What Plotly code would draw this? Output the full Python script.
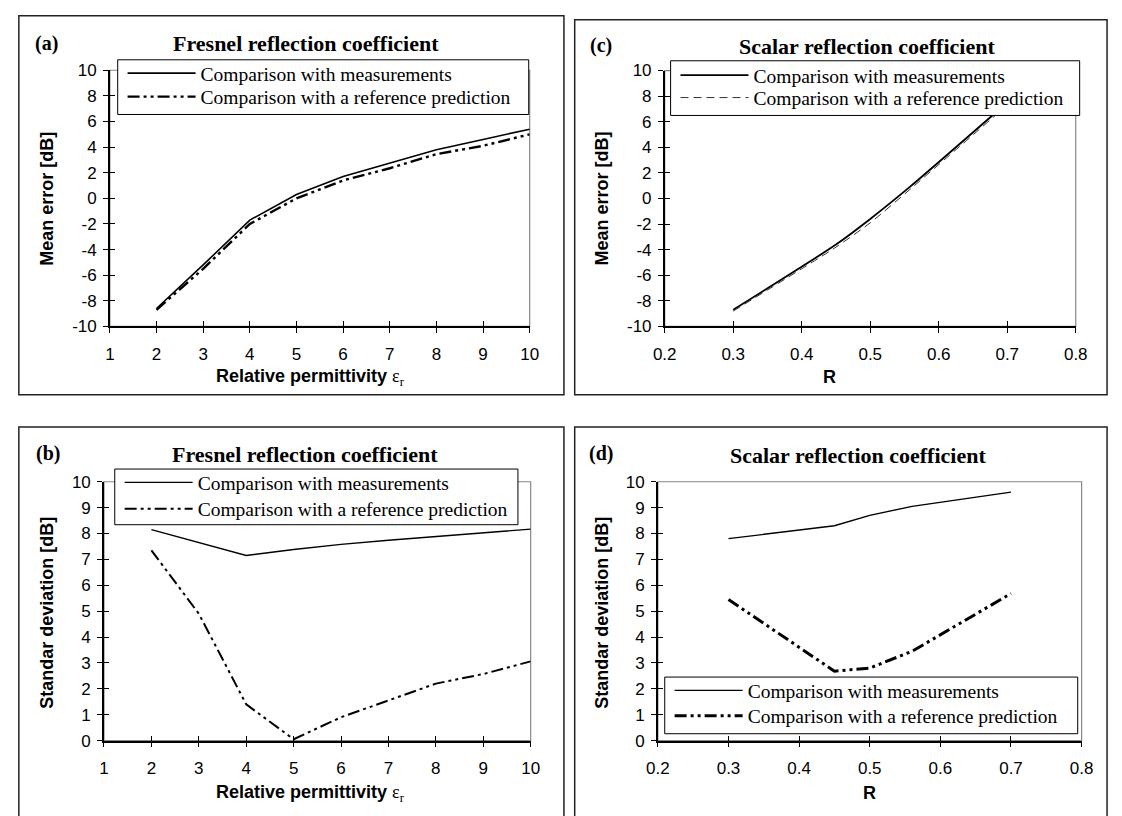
import plotly.graph_objects as go

W, H = 1122, 816

# ---------------- data ----------------
eps_x = [2, 3, 4, 5, 6, 7, 8, 9, 10]
a_meas = [-8.6, -5.2, -1.7, 0.3, 1.7, 2.75, 3.8, 4.6, 5.4]
a_ref = [-8.7, -5.5, -2.0, 0.0, 1.4, 2.35, 3.45, 4.1, 5.0]

R_x = [0.3, 0.45, 0.5, 0.56, 0.7]
c_meas = [-8.7, -3.6, -1.6, 1.0, 7.5]
c_ref = [-8.8, -3.8, -1.9, 0.8, 7.3]

b_meas = [8.15, 7.65, 7.15, 7.38, 7.58, 7.74, 7.89, 8.03, 8.17]
b_ref = [7.35, 4.9, 1.4, 0.05, 0.9, 1.55, 2.2, 2.57, 3.06]

d_meas = [7.8, 8.3, 8.7, 9.05, 9.6]
d_ref = [5.45, 2.68, 2.8, 3.45, 5.68]

eps_ticks = [1, 2, 3, 4, 5, 6, 7, 8, 9, 10]
R_ticks = [0.2, 0.3, 0.4, 0.5, 0.6, 0.7, 0.8]
R_ticklabels = ["0.2", "0.3", "0.4", "0.5", "0.6", "0.7", "0.8"]
mean_ticks = [-10, -8, -6, -4, -2, 0, 2, 4, 6, 8, 10]
std_ticks = [0, 1, 2, 3, 4, 5, 6, 7, 8, 9, 10]

name_meas = "Comparison with measurements"
name_ref = "Comparison with a reference prediction"

SERIF = "Liberation Serif"
SANS = "Liberation Sans"


def px(x):
    return x / W


def py(y):
    return 1 - y / H


fig = go.Figure()

# panel definitions
panels = [
    ("", (100, 529), (62.7, 325), [1, 10], [-10, 10], eps_ticks, mean_ticks, None),
    ("2", (667, 1087), (63, 325), [0.2, 0.8], [-10, 10], R_ticks, mean_ticks, R_ticklabels),
    ("3", (94, 530), (484, 749), [1, 10], [0, 10], eps_ticks, std_ticks, None),
    ("4", (660, 1093), (484, 749), [0.2, 0.8], [0, 10], R_ticks, std_ticks, R_ticklabels),
]

tickfont = dict(family=SANS, size=17, color="black")

for i, (s, (x0, x1), (y0, y1), xr, yr, xt, yt, xtt) in enumerate(panels):
    xdom = [px(x0), px(x1)]
    ydom = [py(y1), py(y0)]
    ov = str(5 + i)
    xa = dict(domain=xdom, range=xr, anchor="y" + s, showgrid=False, zeroline=False,
              showline=True, linecolor="black", linewidth=1.5,
              ticks="outside", ticklen=5, tickwidth=1, tickcolor="black",
              tickvals=xt, ticktext=xtt if xtt else [str(v) for v in xt],
              tickfont=tickfont, ticklabelstandoff=6, fixedrange=True)
    ya = dict(domain=ydom, range=yr, anchor="x" + s, showgrid=False, zeroline=False,
              showline=True, linecolor="black", linewidth=1.5,
              ticks="outside", ticklen=5, tickwidth=1, tickcolor="black",
              tickvals=yt, ticktext=[str(v) for v in yt],
              tickfont=tickfont, ticklabelstandoff=3, fixedrange=True)
    xo = dict(domain=xdom, range=xr, anchor="y" + s, overlaying="x" + s, matches="x" + s,
              showgrid=False, zeroline=False, showline=False, ticks="inside", ticklen=5,
              tickwidth=1, tickcolor="black", tickvals=xt, showticklabels=False, fixedrange=True)
    yo = dict(domain=ydom, range=yr, anchor="x" + s, overlaying="y" + s, matches="y" + s,
              showgrid=False, zeroline=False, showline=False, ticks="inside", ticklen=5,
              tickwidth=1, tickcolor="black", tickvals=yt, showticklabels=False, fixedrange=True)
    fig.update_layout(**{"xaxis" + s: xa, "yaxis" + s: ya, "xaxis" + ov: xo, "yaxis" + ov: yo})
    # empty traces so the overlay tick axes are drawn
    fig.add_trace(go.Scatter(x=[], y=[], xaxis="x" + ov, yaxis="y" + s, showlegend=False, hoverinfo="skip"))
    fig.add_trace(go.Scatter(x=[], y=[], xaxis="x" + s, yaxis="y" + ov, showlegend=False, hoverinfo="skip"))
    # gray plot-area frame
    fig.add_shape(type="rect", xref="x" + s + " domain", yref="y" + s + " domain",
                  x0=0, x1=1, y0=0, y1=1, line=dict(color="#888888", width=1.2), layer="below")

DDOT = "12px,4px,3px,4px,3px,4px"

# (a)
fig.add_trace(go.Scatter(x=eps_x, y=a_meas, mode="lines", name=name_meas, xaxis="x", yaxis="y",
                         line=dict(color="black", width=1.6), legend="legend"))
fig.add_trace(go.Scatter(x=eps_x, y=a_ref, mode="lines", name=name_ref, xaxis="x", yaxis="y",
                         line=dict(color="black", width=2.4, dash=DDOT), legend="legend2"))
# (c)
fig.add_trace(go.Scatter(x=R_x, y=c_meas, mode="lines", name=name_meas, xaxis="x2", yaxis="y2",
                         line=dict(color="black", width=1.8, shape="spline", smoothing=0.6), legend="legend3"))
fig.add_trace(go.Scatter(x=R_x, y=c_ref, mode="lines", name=name_ref, xaxis="x2", yaxis="y2",
                         line=dict(color="#333333", width=1, dash="8px,5px", shape="spline", smoothing=0.6),
                         legend="legend4"))
# (b)
fig.add_trace(go.Scatter(x=eps_x, y=b_meas, mode="lines", name=name_meas, xaxis="x3", yaxis="y3",
                         line=dict(color="black", width=1.4), legend="legend5"))
fig.add_trace(go.Scatter(x=eps_x, y=b_ref, mode="lines", name=name_ref, xaxis="x3", yaxis="y3",
                         line=dict(color="black", width=2.0, dash=DDOT), legend="legend6"))
# (d)
fig.add_trace(go.Scatter(x=R_x, y=d_meas, mode="lines", name=name_meas, xaxis="x4", yaxis="y4",
                         line=dict(color="black", width=1.4), legend="legend7"))
fig.add_trace(go.Scatter(x=R_x, y=d_ref, mode="lines", name=name_ref, xaxis="x4", yaxis="y4",
                         line=dict(color="black", width=3.0, dash=DDOT), legend="legend8"))

legfont = dict(family=SERIF, size=19.5, color="black")


def leg(x, y):
    return dict(x=px(x), y=py(y), xanchor="left", yanchor="middle", xref="paper", yref="paper",
                bgcolor="rgba(0,0,0,0)", borderwidth=0, font=legfont,
                itemwidth=68, orientation="v", itemclick=False, itemdoubleclick=False)


# legend boxes (x0, y0, x1, y1) and row centres
leg_boxes = [(108, 52, 528, 108, 66, 90), (673, 53, 1091, 109, 68, 91),
             (105, 471, 517, 528, 485, 512), (667, 684, 1089, 742, 698, 724)]
legs = {}
for k, (x0, y0, x1, y1, r1, r2) in enumerate(leg_boxes):
    fig.add_shape(type="rect", xref="paper", yref="paper", x0=px(x0), x1=px(x1), y0=py(y1), y1=py(y0),
                  line=dict(color="black", width=1), fillcolor="white", layer="above")
    n1 = "legend" if k == 0 else "legend" + str(2 * k + 1)
    n2 = "legend" + str(2 * k + 2)
    legs[n1] = leg(x0 + 5, r1)
    legs[n2] = leg(x0 + 5, r2)
fig.update_layout(**legs)

# outer panel boxes
for (x0, y0, x1, y1) in [(7, 7, 564, 395), (575, 11, 1119, 395), (7, 428, 564, 830), (575, 428, 1119, 830)]:
    fig.add_shape(type="rect", xref="paper", yref="paper", x0=px(x0), x1=px(x1), y0=py(y1), y1=py(y0),
                  line=dict(color="#222222", width=1.5), layer="below")

ann = []
# panel letters
for t, x, y in [("(a)", 35, 35), ("(c)", 602, 37), ("(b)", 37, 455), ("(d)", 602, 455)]:
    ann.append(dict(text="<b>" + t + "</b>", x=px(x), y=py(y), font=dict(family=SERIF, size=20, color="black")))
# titles
for t, x, y in [("Fresnel reflection coefficient", 300, 35), ("Scalar reflection coefficient", 874, 38),
                ("Fresnel reflection coefficient", 299, 456), ("Scalar reflection coefficient", 864, 457)]:
    ann.append(dict(text="<b>" + t + "</b>", x=px(x), y=py(y), font=dict(family=SERIF, size=22, color="black")))
# y titles
for t, x, y in [("Mean error [dB]", 36, 194), ("Mean error [dB]", 603, 194),
                ("Standar deviation [dB]", 35, 618), ("Standar deviation [dB]", 602, 618)]:
    ann.append(dict(text="<b>" + t + "</b>", x=px(x), y=py(y), textangle=-90,
                    font=dict(family=SANS, size=18, color="black")))
# x titles
eps_title = ("<b>Relative permittivity</b> <span style='font-family:Liberation Serif'>ε<sub>r</sub></span>")
for t, x, y in [(eps_title, 305, 377), ("<b>R</b>", 835, 377), (eps_title, 305, 803), ("<b>R</b>", 876, 803)]:
    ann.append(dict(text=t, x=px(x), y=py(y), font=dict(family=SANS, size=18, color="black")))

for a in ann:
    a.update(xref="paper", yref="paper", showarrow=False, xanchor="center", yanchor="middle")
fig.update_layout(annotations=ann)

fig.update_layout(width=W, height=H, margin=dict(l=0, r=0, t=0, b=0), autosize=False,
                  paper_bgcolor="white", plot_bgcolor="white", showlegend=True,
                  font=dict(family=SANS, color="black"))

fig.write_html("out.html", config={"displayModeBar": False})
